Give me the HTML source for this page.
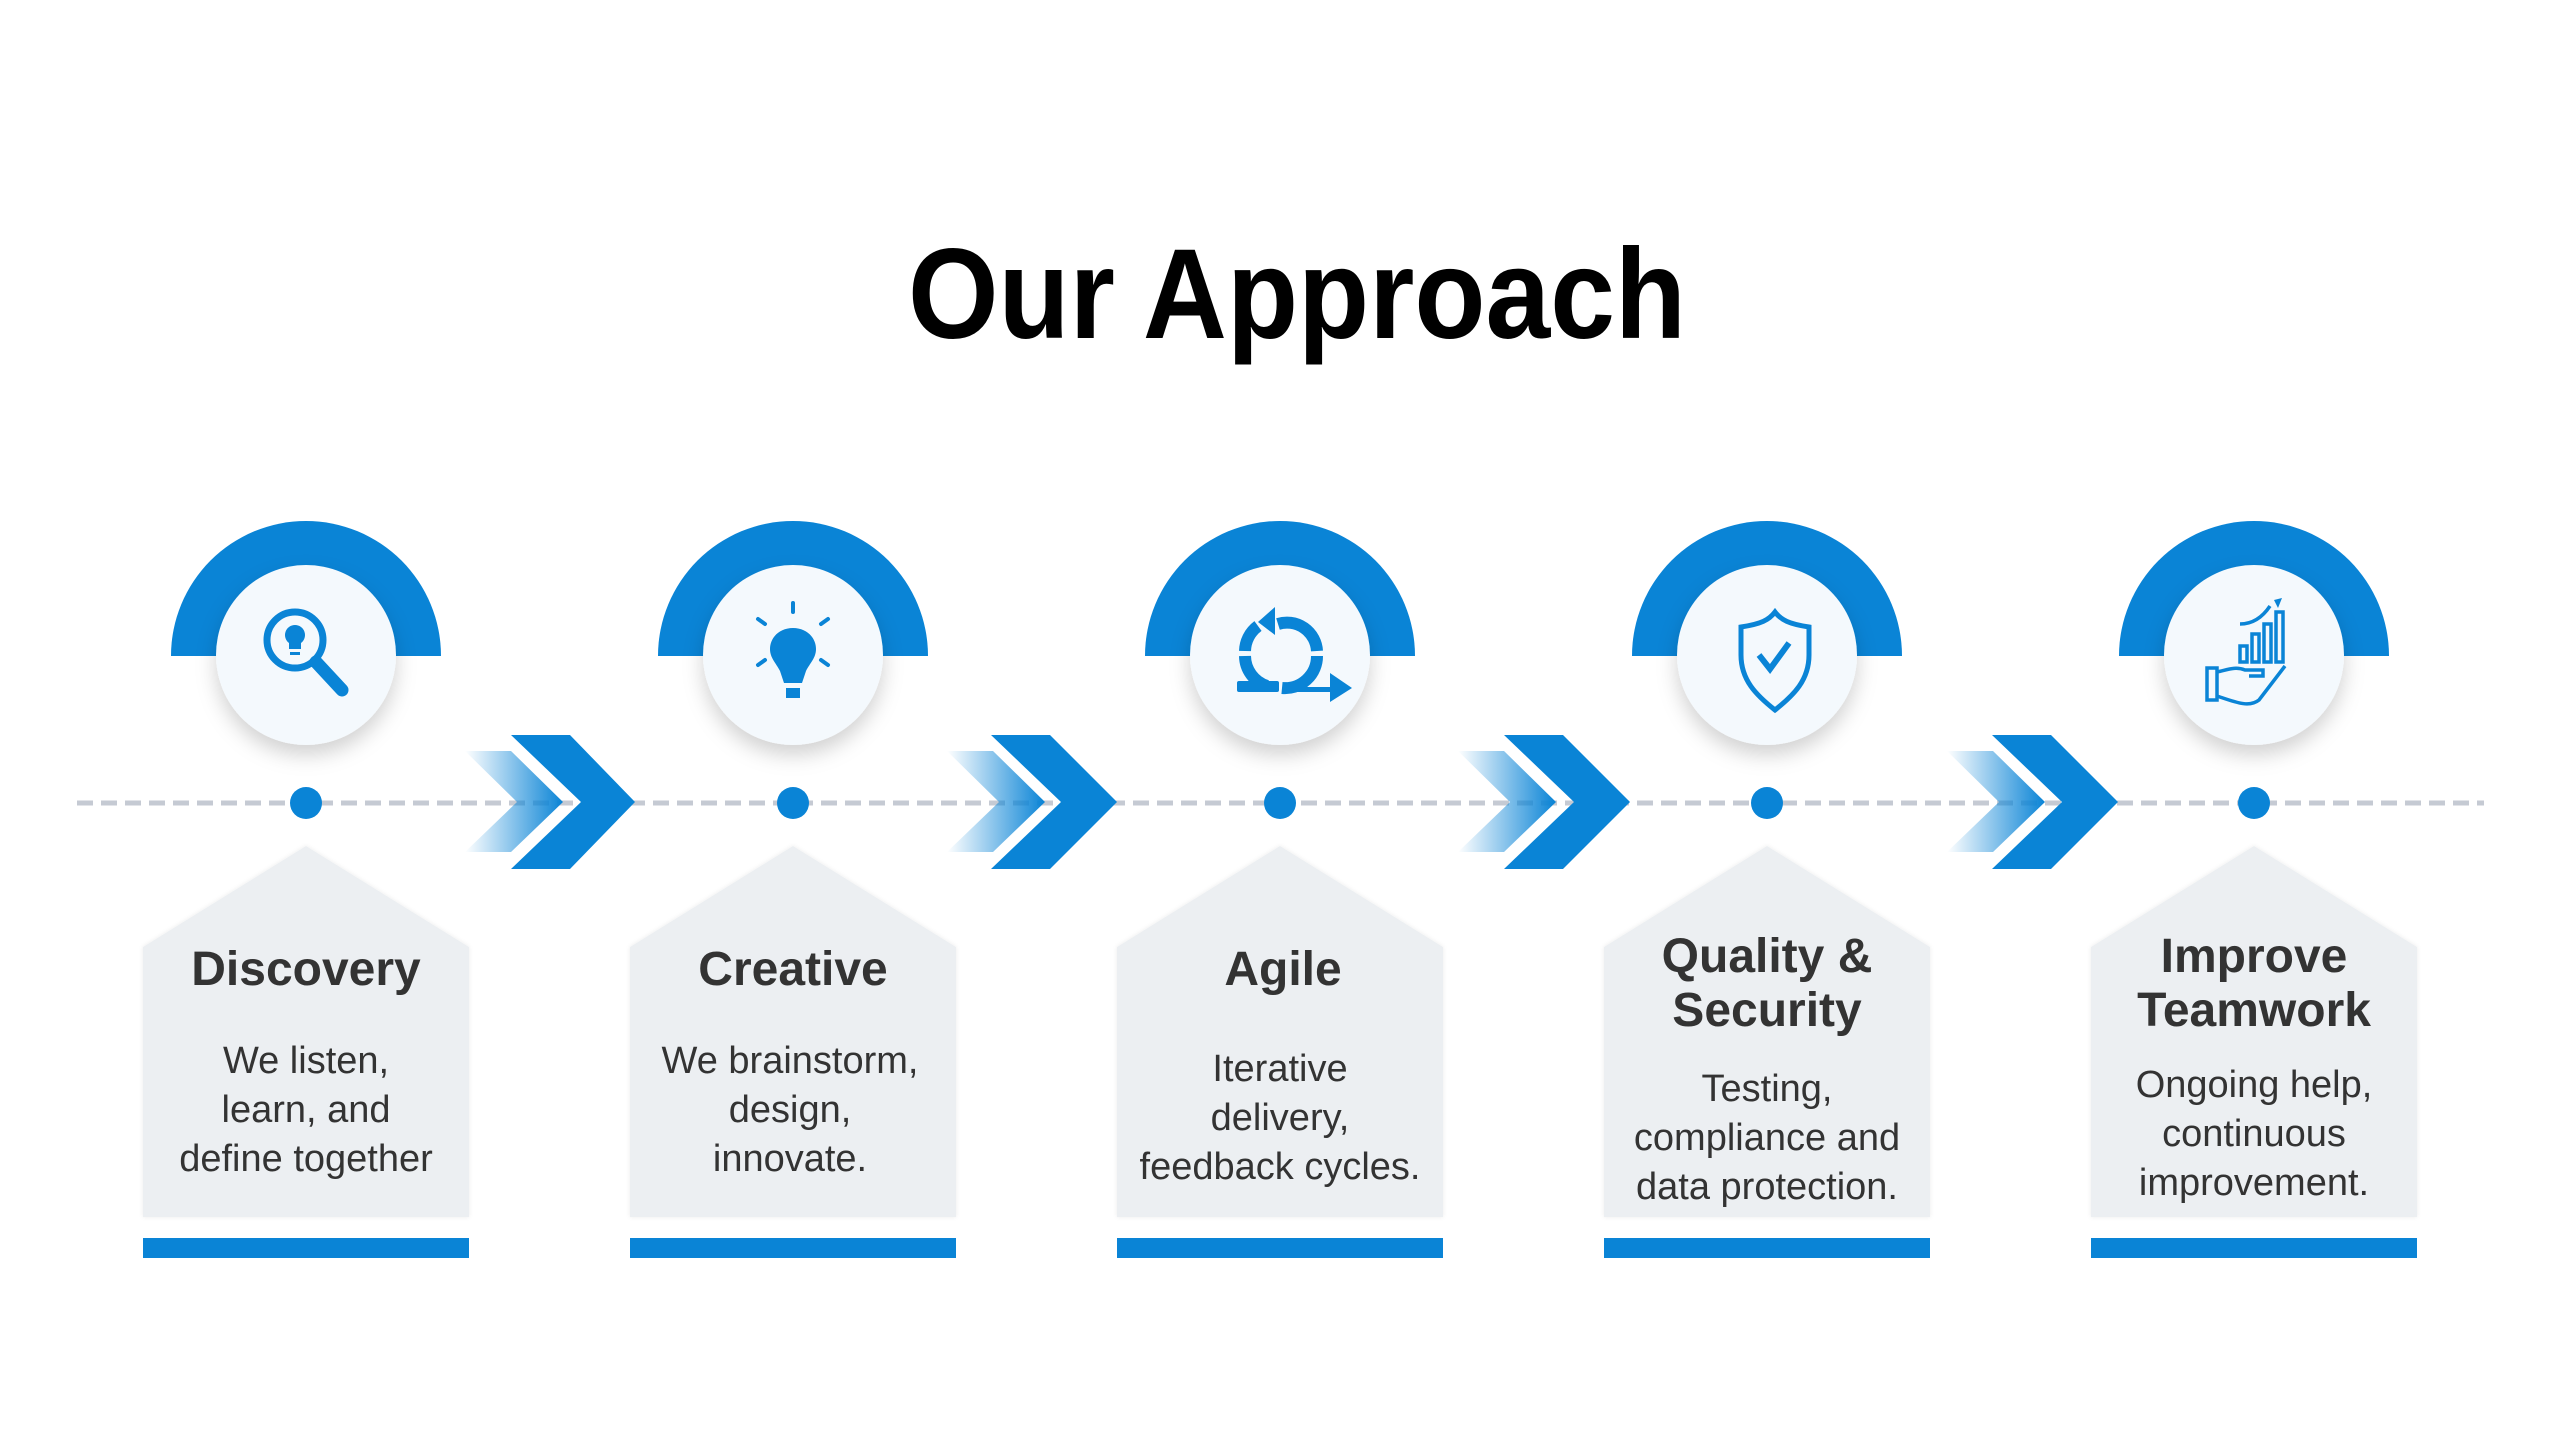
<!DOCTYPE html>
<html><head><meta charset="utf-8"><style>
html,body{margin:0;padding:0;background:#fff;}
svg{display:block;}
</style></head><body>
<svg width="2560" height="1440" viewBox="0 0 2560 1440" xmlns="http://www.w3.org/2000/svg" font-family="Liberation Sans, DejaVu Sans, sans-serif">
<defs>
<linearGradient id="lg" x1="0" x2="1" y1="0" y2="0">
<stop offset="0" stop-color="#0A84D6" stop-opacity="0"/>
<stop offset="1" stop-color="#0A84D6" stop-opacity="1"/>
</linearGradient>
<filter id="sh" x="-30%" y="-30%" width="160%" height="170%">
<feDropShadow dx="0" dy="10" stdDeviation="10" flood-color="#000" flood-opacity="0.18"/>
</filter>
<filter id="sh2" x="-10%" y="-10%" width="120%" height="120%">
<feDropShadow dx="0" dy="0" stdDeviation="2" flood-color="#000" flood-opacity="0.08"/>
</filter>
</defs>
<rect width="2560" height="1440" fill="#fff"/>
<text x="1297" y="338" text-anchor="middle" font-size="128" font-weight="bold" fill="#000" textLength="778" lengthAdjust="spacingAndGlyphs">Our Approach</text>

<line x1="77" y1="803" x2="2484" y2="803" stroke="#C5CAD3" stroke-width="5" stroke-dasharray="16,8"/>

<g>
<polygon fill="url(#lg)" points="465,751 511,751 563,802 511,852 465,852 517,802"/>
<polygon fill="#0A84D6" points="511,735 570,735 635,802 570,869 511,869 581,802"/>
<polygon fill="url(#lg)" points="947,751 993,751 1045,802 993,852 947,852 999,802"/>
<polygon fill="#0A84D6" points="991,735 1050,735 1117,802 1050,869 991,869 1061,802"/>
<polygon fill="url(#lg)" points="1458,751 1504,751 1556,802 1504,852 1458,852 1510,802"/>
<polygon fill="#0A84D6" points="1504,735 1563,735 1630,802 1563,869 1504,869 1574,802"/>
<polygon fill="url(#lg)" points="1947,751 1993,751 2045,802 1993,852 1947,852 1999,802"/>
<polygon fill="#0A84D6" points="1992,735 2051,735 2118,802 2051,869 1992,869 2062,802"/>
</g>

<g transform="translate(306,0)">
<path d="M-135,656 A135,135 0 0 1 135,656 Z" fill="#0A84D6"/>
<circle cx="0" cy="655" r="90" fill="#F4F9FD" filter="url(#sh)"/>
<circle cx="0" cy="803" r="16" fill="#0A84D6"/>
<polygon points="0,846 163,947 163,1217 -163,1217 -163,947" fill="#ECEFF2" filter="url(#sh2)"/>
<rect x="-163" y="1238" width="326" height="20" fill="#0A84D6"/>
<text x="0" y="985" text-anchor="middle" font-size="48" font-weight="bold" fill="#333">Discovery</text>
<g font-size="38" fill="#333" text-anchor="middle"><text x="0" y="1073">We listen,</text><text x="0" y="1122">learn, and</text><text x="0" y="1171">define together</text></g>
<g fill="none" stroke="#0A84D6">
<circle cx="-11" cy="640" r="28" stroke-width="7"/>
<line x1="10" y1="662" x2="36" y2="690" stroke-width="13" stroke-linecap="round"/>
</g>
<path d="M-11,625 a10,10 0 0 1 6,18 v6 h-12 v-6 a10,10 0 0 1 6,-18z" fill="#0A84D6"/>
<rect x="-16" y="652" width="10" height="3" fill="#0A84D6"/>
</g>

<g transform="translate(793,0)">
<path d="M-135,656 A135,135 0 0 1 135,656 Z" fill="#0A84D6"/>
<circle cx="0" cy="655" r="90" fill="#F4F9FD" filter="url(#sh)"/>
<circle cx="0" cy="803" r="16" fill="#0A84D6"/>
<polygon points="0,846 163,947 163,1217 -163,1217 -163,947" fill="#ECEFF2" filter="url(#sh2)"/>
<rect x="-163" y="1238" width="326" height="20" fill="#0A84D6"/>
<text x="0" y="985" text-anchor="middle" font-size="48" font-weight="bold" fill="#333">Creative</text>
<g font-size="38" fill="#333" text-anchor="middle"><text x="-3" y="1073">We brainstorm,</text><text x="-3" y="1122">design,</text><text x="-3" y="1171">innovate.</text></g>
<path d="M0,628 c-14,0 -23,10 -23,21 c0,9 6,14 10,22 l4,12 h18 l4,-12 c4,-8 10,-13 10,-22 c0,-11 -9,-21 -23,-21z" fill="#0A84D6"/>
<rect x="-7" y="688" width="14" height="10" fill="#0A84D6"/>
<g stroke="#0A84D6" stroke-width="4" stroke-linecap="round">
<line x1="0" y1="603" x2="0" y2="612"/><line x1="-35" y1="619" x2="-28" y2="624"/><line x1="35" y1="619" x2="28" y2="624"/>
<line x1="-35" y1="665" x2="-28" y2="660"/><line x1="35" y1="665" x2="28" y2="660"/>
</g>
</g>

<g transform="translate(1280,0)">
<path d="M-135,656 A135,135 0 0 1 135,656 Z" fill="#0A84D6"/>
<circle cx="0" cy="655" r="90" fill="#F4F9FD" filter="url(#sh)"/>
<circle cx="0" cy="803" r="16" fill="#0A84D6"/>
<polygon points="0,846 163,947 163,1217 -163,1217 -163,947" fill="#ECEFF2" filter="url(#sh2)"/>
<rect x="-163" y="1238" width="326" height="20" fill="#0A84D6"/>
<text x="3" y="985" text-anchor="middle" font-size="48" font-weight="bold" fill="#333">Agile</text>
<g font-size="38" fill="#333" text-anchor="middle"><text x="0" y="1081">Iterative</text><text x="0" y="1130">delivery,</text><text x="0" y="1179">feedback cycles.</text></g>
<g fill="none" stroke="#0A84D6" stroke-width="12">
<path d="M-22,626 A32,32 0 0 0 -35,651"/>
<path d="M-35,656 A32,32 0 0 0 -13,686"/>
<path d="M-2,624 A30,30 0 0 1 37,651"/>
<path d="M37,656 A32,32 0 0 1 2,688"/>
</g>
<polygon points="-5,607 -5,635 -22,622" fill="#0A84D6"/>
<rect x="-43" y="681" width="42" height="11" rx="2" fill="#0A84D6"/>
<polygon points="15,687 50,687 50,673 72,688 50,702 50,692 5,692" fill="#0A84D6"/>
</g>

<g transform="translate(1767,0)">
<path d="M-135,656 A135,135 0 0 1 135,656 Z" fill="#0A84D6"/>
<circle cx="0" cy="655" r="90" fill="#F4F9FD" filter="url(#sh)"/>
<circle cx="0" cy="803" r="16" fill="#0A84D6"/>
<polygon points="0,846 163,947 163,1217 -163,1217 -163,947" fill="#ECEFF2" filter="url(#sh2)"/>
<rect x="-163" y="1238" width="326" height="20" fill="#0A84D6"/>
<g font-size="48" font-weight="bold" fill="#333" text-anchor="middle"><text x="0" y="972">Quality &amp;</text><text x="0" y="1026">Security</text></g>
<g font-size="38" fill="#333" text-anchor="middle"><text x="0" y="1101">Testing,</text><text x="0" y="1150">compliance and</text><text x="0" y="1199">data protection.</text></g>
<path d="M8,612 c-6,8 -14,12 -34,15 v28 c0,25 15,40 34,55 c19,-15 34,-30 34,-55 v-28 c-20,-3 -28,-7 -34,-15z" fill="none" stroke="#0A84D6" stroke-width="5"/>
<polyline points="-8,655 3,669 22,643" fill="none" stroke="#0A84D6" stroke-width="6"/>
</g>

<g transform="translate(2254,0)">
<path d="M-135,656 A135,135 0 0 1 135,656 Z" fill="#0A84D6"/>
<circle cx="0" cy="655" r="90" fill="#F4F9FD" filter="url(#sh)"/>
<circle cx="0" cy="803" r="16" fill="#0A84D6"/>
<polygon points="0,846 163,947 163,1217 -163,1217 -163,947" fill="#ECEFF2" filter="url(#sh2)"/>
<rect x="-163" y="1238" width="326" height="20" fill="#0A84D6"/>
<g font-size="48" font-weight="bold" fill="#333" text-anchor="middle"><text x="0" y="972">Improve</text><text x="0" y="1026">Teamwork</text></g>
<g font-size="38" fill="#333" text-anchor="middle"><text x="0" y="1097">Ongoing help,</text><text x="0" y="1146">continuous</text><text x="0" y="1195">improvement.</text></g>
<g fill="none" stroke="#0A84D6" stroke-width="3.5">
<rect x="-14" y="646" width="7" height="16"/><rect x="-2" y="634" width="7" height="28"/><rect x="10" y="624" width="7" height="38"/><rect x="22" y="612" width="7" height="50"/>
<path d="M-14,624 c12,0 22,-6 30,-18"/>
<rect x="-47" y="668" width="10" height="32"/>
<path d="M-37,672 c10,-2 18,-6 28,-2 l18,0 l0,6 l-14,0 M-37,696 c18,6 32,12 42,4 l26,-34"/>
</g>
<polygon points="20,600 28,598 24,608" fill="#0A84D6"/>
</g>
</svg>
</body></html>
